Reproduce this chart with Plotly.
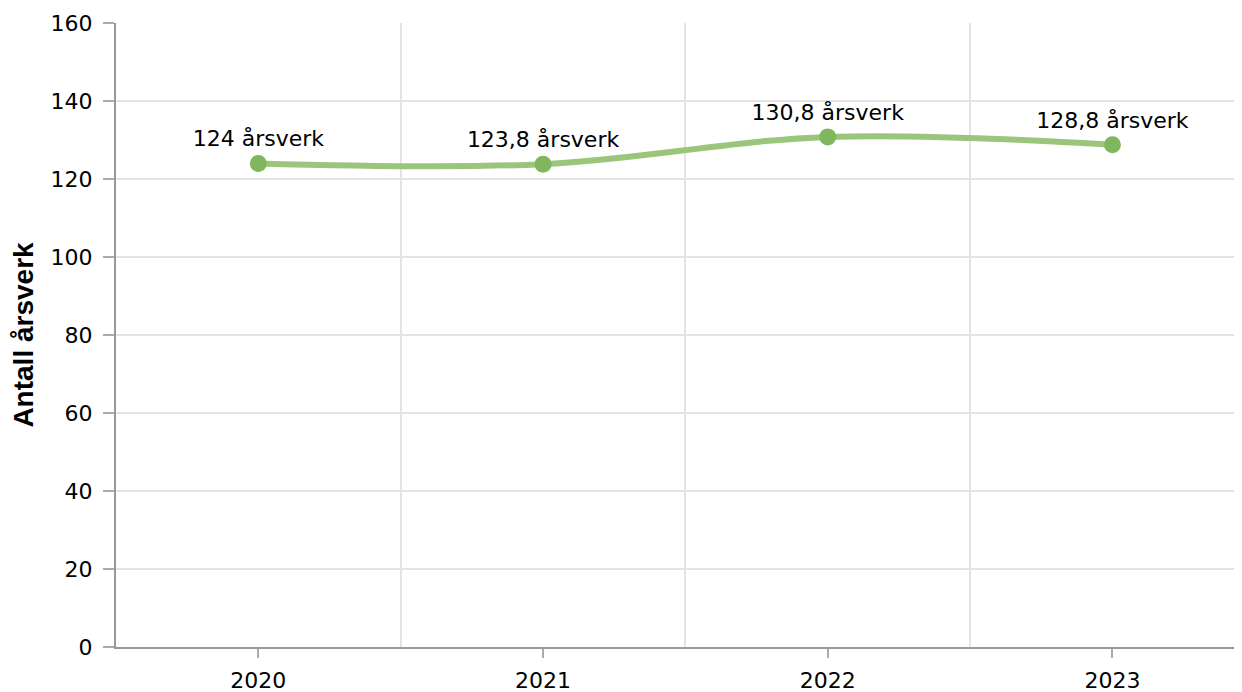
import plotly.graph_objects as go

years = ["2020", "2021", "2022", "2023"]
values = [124, 123.8, 130.8, 128.8]
labels = ["124 årsverk", "123,8 årsverk", "130,8 årsverk", "128,8 årsverk"]
y_ticks = [0, 20, 40, 60, 80, 100, 120, 140, 160]

xi = list(range(len(years)))

fig = go.Figure()
fig.add_trace(go.Scatter(
    x=xi, y=values, mode="lines",
    line=dict(color="rgb(154,198,124)", width=6, shape="spline", smoothing=1.0),
    hoverinfo="skip", showlegend=False,
))
fig.add_trace(go.Scatter(
    x=xi, y=values, mode="markers+text",
    marker=dict(color="rgb(128,182,92)", size=17),
    text=labels, textposition="top center",
    textfont=dict(family="DejaVu Sans", size=22, color="#000"),
    showlegend=False,
))

fig.update_layout(
    width=1226, height=684,
    margin=dict(l=108, r=0, t=15, b=45, autoexpand=False),
    plot_bgcolor="white", paper_bgcolor="white",
    font=dict(family="DejaVu Sans", size=22, color="#000"),
)
fig.update_xaxes(
    range=[-0.5, 3.427], automargin=False,
    tickvals=xi, ticktext=years,
    showgrid=False, zeroline=False,
    showline=True, linecolor="#999", linewidth=2,
    ticks="outside", ticklen=9, tickcolor="#aaa", tickwidth=2,
    ticklabelstandoff=4,
    minor=dict(tick0=0.5, dtick=1, showgrid=True, gridcolor="#e3e3e3", gridwidth=2, ticks=""),
    tickfont=dict(family="DejaVu Sans", size=22),
)
fig.update_yaxes(
    range=[0, 160], automargin=False,
    tickvals=y_ticks,
    showgrid=True, gridcolor="#e3e3e3", gridwidth=2, zeroline=False,
    showline=True, linecolor="#999", linewidth=2,
    ticks="outside", ticklen=11, tickcolor="#aaa", tickwidth=2,
    ticklabelstandoff=6,
    tickfont=dict(family="DejaVu Sans", size=22),
    title=dict(text="<b>Antall årsverk</b>", font=dict(family="Liberation Sans", size=28), standoff=17),
)

fig.write_html("out.html")
